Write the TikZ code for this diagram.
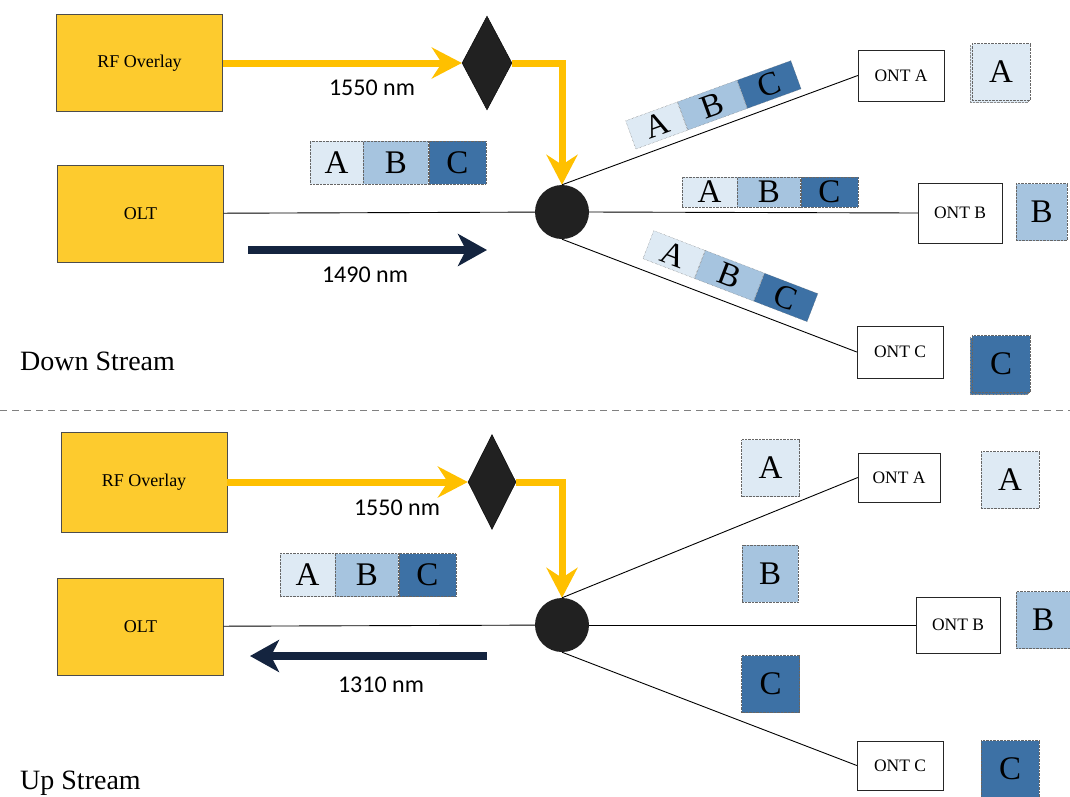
\documentclass[tikz,border=0pt]{standalone}
\usepackage{fontspec}
\setmainfont{Liberation Serif}
\setsansfont{Carlito}
\usetikzlibrary{shapes}
\usetikzlibrary{shapes.geometric}
\usetikzlibrary{positioning}
\usetikzlibrary{arrows.meta}
\usetikzlibrary{shadows}
\definecolor{gold}{HTML}{FDCB2E}
\definecolor{amber}{HTML}{FFC000}
\definecolor{navy}{HTML}{14243F}
\definecolor{pktA}{HTML}{DEEAF4}
\definecolor{pktB}{HTML}{A6C4DF}
\definecolor{pktC}{HTML}{3D71A5}
\tikzset{
    headend/.style = {rectangle, draw=black!70, fill=gold, minimum width=166pt, minimum height=97pt, font=\fontsize{18}{20}\selectfont},
    ont/.style = {rectangle, draw=black!85, fill=white, minimum width=86pt, minimum height=51pt, font=\fontsize{17.5}{19}\selectfont},
    pkt/.style = {rectangle, draw=black!60, densely dotted, inner sep=0pt, minimum height=43pt, font=\fontsize{33}{35}\selectfont},
    pkta/.style = {pkt, fill=pktA, minimum width=55pt},
    pktb/.style = {pkt, fill=pktB, minimum width=63pt},
    pktc/.style = {pkt, fill=pktC, minimum width=57pt},
    slim/.style = {minimum height=30pt},
    sq/.style = {pkt, minimum width=58pt, minimum height=57pt},
    stack/.style = {copy shadow={shadow xshift=-2pt, shadow yshift=-2pt, draw=black!45}},
    splitter/.style = {circle, fill=black!87, minimum size=54pt, inner sep=0pt},
    coupler/.style = {diamond, fill=black!87, draw=black, inner sep=0pt, minimum width=50pt, minimum height=94pt},
    fiber/.style = {line width=0.9pt, black},
    feed/.style = {line width=7pt, amber, -{Stealth[length=30pt,width=31pt,inset=10pt]}}, % rf overlay
    stream/.style = {line width=8pt, navy, -{Stealth[length=29pt,width=32pt,inset=8pt]}}, % data
    wave/.style = {font=\sffamily\fontsize{24}{26}\selectfont},
    caption/.style = {anchor=west, inner sep=0pt, font=\fontsize{28}{30}\selectfont}
}
\begin{document}
\begin{tikzpicture}[x=1pt, y=-1pt]
\useasboundingbox (0,0) rectangle (1070,796);
%
% down stream
\node[headend] at (139.5, 63) (rf1) {RF Overlay};
\node[headend] at (140.5, 213.5) (olt1) {OLT};
\node[coupler] at (487, 63) (dia1) {};
\node[splitter] at (562, 212) (spl1) {};
\node[ont] at (901, 75.5) (ontA1) {ONT A};
\node[ont, minimum width=84pt, minimum height=60pt] at (960, 213) (ontB1) {ONT B};
\node[ont, minimum height=52pt] at (900, 352) (ontC1) {ONT C};
%
\draw[feed] (rf1) -- (dia1);
\draw[feed] (dia1.east) -| (spl1.north);
\draw[fiber] (olt1) -- (spl1);
\draw[fiber] (spl1.north) -- (ontA1.west);
\draw[fiber] (spl1.east) -- (ontB1.west);
\draw[fiber] (spl1.south) -- (ontC1.west);
%
\node[wave] at (372, 88) (w1) {1550 nm};
\coordinate (ds1) at (248, 250);
\coordinate (ds2) at (487, 250);
\draw[stream] (ds1) -- (ds2);
\node[wave] at (365, 275) (w2) {1490 nm};
%
\node[pkta, minimum width=53pt] at (336.5, 162.5) (oA1) {A};
\node[pktb, minimum width=65pt, right=0pt of oA1] (oB1) {B};
\node[pktc, right=0pt of oB1] (oC1) {C};
%
\node[pkta, slim, rotate=20] at (656.6, 125.5) (tA1) {A};
\node[pktb, slim, rotate=20, right=0pt of tA1] (tB1) {B};
\node[pktc, slim, rotate=20, right=0pt of tB1] (tC1) {C};
\node[pkta, slim] at (709.5, 192) (mA1) {A};
\node[pktb, slim, right=0pt of mA1] (mB1) {B};
\node[pktc, slim, right=0pt of mB1] (mC1) {C};
\node[pkta, slim, rotate=-21] at (674, 254.5) (bA1) {A};
\node[pktb, slim, rotate=-21, right=0pt of bA1] (bB1) {B};
\node[pktc, slim, rotate=-21, right=0pt of bB1] (bC1) {C};
%
\node[sq, stack, fill=pktA] at (1001, 72) (rA1) {A};
\node[sq, fill=pktB, minimum width=51pt] at (1041.5, 212) (rB1) {B};
\node[sq, stack, fill=pktC] at (1001, 364) (rC1) {C};
\node[caption] at (20, 361) (down) {Down Stream};
%
\coordinate (sep1) at (0, 410);
\coordinate (sep2) at (1070, 410);
\draw[gray, line width=0.9pt, dash pattern=on 7pt off 5pt] (sep1) -- (sep2);
%
% up stream
\node[headend, minimum height=100pt] at (144, 482) (rf2) {RF Overlay};
\node[headend] at (140.5, 626.5) (olt2) {OLT};
\node[coupler, minimum width=48pt, minimum height=95pt] at (492, 482) (dia2) {};
\node[splitter] at (562, 625) (spl2) {};
\node[ont, minimum width=82pt, minimum height=49pt] at (899, 477.5) (ontA2) {ONT A};
\node[ont, minimum width=84pt, minimum height=56pt] at (958, 625) (ontB2) {ONT B};
\node[ont, minimum height=49pt] at (900, 765.5) (ontC2) {ONT C};
%
\draw[feed] (rf2) -- (dia2);
\draw[feed] (dia2.east) -| (spl2.north);
\draw[fiber] (olt2) -- (spl2);
\draw[fiber] (spl2.north) -- (ontA2.west);
\draw[fiber] (spl2.east) -- (ontB2.west);
\draw[fiber] (spl2.south) -- (ontC2.west);
%
\node[wave] at (397, 508) (w3) {1550 nm};
\coordinate (us1) at (487, 656);
\coordinate (us2) at (250, 656);
\draw[stream] (us1) -- (us2);
\node[wave] at (381, 685) (w4) {1310 nm};
%
\node[pkta] at (307.5, 575) (oA2) {A};
\node[pktb, right=0pt of oA2] (oB2) {B};
\node[pktc, right=0pt of oB2] (oC2) {C};
%
\node[sq, fill=pktA] at (770.5, 468) (mA2) {A};
\node[sq, fill=pktB, minimum width=56pt] at (770, 573.5) (mB2) {B};
\node[sq, fill=pktC] at (770.5, 684) (mC2) {C};
\node[sq, fill=pktA] at (1010, 480) (rA2) {A};
\node[sq, fill=pktB, minimum width=54pt] at (1043, 620) (rB2) {B};
\node[sq, fill=pktC] at (1010, 769) (rC2) {C};
\node[caption] at (20, 783) (up) {Up Stream};

\end{tikzpicture}
\end{document}
